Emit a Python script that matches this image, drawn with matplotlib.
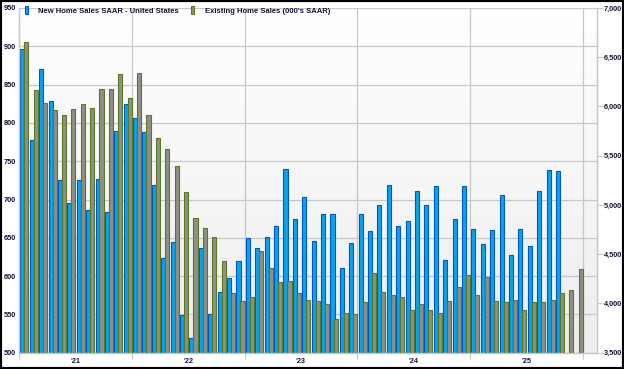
import numpy as np
import matplotlib.pyplot as plt
from matplotlib.patches import Patch, Rectangle
from matplotlib.colors import LinearSegmentedColormap

years = ["'21", "'22", "'23", "'24", "'25"]

# New home sales SAAR (thousands), Jan 2021 - Oct 2025
new_home = [897, 778, 870, 828, 725, 695, 726, 686, 727, 684, 789, 825,
            806, 788, 719, 623, 644, 549, 519, 637, 551, 579, 597, 620,
            650, 637, 651, 665, 740, 675, 703, 646, 681, 681, 611, 643,
            681, 659, 693, 719, 665, 672, 711, 693, 718, 621, 675, 718,
            662, 642, 660, 706, 628, 662, 639, 711, 738, 737]

# Existing home sales (000's SAAR), Jan 2021 - Dec 2025
existing_home = [6650, 6170, 6040, 5960, 5910, 5970, 6030, 5980, 6180, 6180, 6330, 6090,
                 6340, 5910, 5680, 5570, 5400, 5130, 4870, 4770, 4670, 4430, 4110, 4020,
                 4070, 4530, 4360, 4220, 4230, 4110, 4040, 4030, 3990, 3840, 3900, 3890,
                 4010, 4310, 4120, 4090, 4070, 3930, 3990, 3930, 3900, 4030, 4170, 4290,
                 4090, 4270, 4030, 4010, 4040, 3930, 4010, 4010, 4040, 4110, 4140, 4350]

txt = '#14143a'
grid_c = '#c8c8c8'
font = 'Liberation Sans'

fig = plt.figure(figsize=(6.24, 3.69), dpi=100)
ax = fig.add_axes([19 / 624, 1 - 352.7 / 369, (597 - 19) / 624, (352.7 - 8) / 369])

xmax = 61.5
# background gradient
cmap = LinearSegmentedColormap.from_list('bg', ['#ffffff', '#ededed'])
ax.imshow(np.linspace(0, 1, 256).reshape(-1, 1), cmap=cmap, aspect='auto',
          extent=[0, xmax, 500, 950], zorder=0)

ax.bar(np.arange(len(new_home)) + 0.14, np.array(new_home) - 500, bottom=500,
       width=0.43, align='edge', color='#08a4e8', edgecolor='#0058c8', linewidth=0.8)

ax.set_xlim(0, xmax)
ax.set_ylim(500, 950)
ax.set_yticks(range(500, 951, 50))
ax.set_xticks(range(0, 61, 12))
ax.set_xticklabels([])
ax.set_xticks([6, 18, 30, 42, 54], minor=True)
ax.set_xticklabels(years, minor=True)
ax.grid(True, color=grid_c, linewidth=0.9)
ax.set_axisbelow(True)

ax.tick_params(axis='x', which='major', length=4, color=grid_c, width=0.8)
ax.tick_params(axis='x', which='minor', length=0, pad=4, labelsize=5.3, labelcolor=txt)
ax.tick_params(axis='y', length=0, pad=2, labelsize=5.3, labelcolor=txt)

ax2 = ax.twinx()
ax2.bar(np.arange(len(existing_home)) + 0.565, np.array(existing_home) - 3500, bottom=3500,
        width=0.43, align='edge', color='#8f8f87', edgecolor='#5b7a20', linewidth=0.8)
ax2.set_ylim(3500, 7000)
ax2.set_yticks(range(3500, 7001, 500))
ax2.set_yticklabels([f'{v:,}' for v in range(3500, 7001, 500)])
ax2.tick_params(axis='y', length=4, color=grid_c, width=0.8, pad=1, labelsize=5.3, labelcolor=txt)

for a in (ax, ax2):
    a.spines['top'].set_visible(False)
    for s in ('left', 'right', 'bottom'):
        a.spines[s].set_color(grid_c)
        a.spines[s].set_linewidth(0.9)
    for lab in a.get_xticklabels(which='both') + a.get_yticklabels():
        lab.set_fontfamily(font)
        lab.set_fontweight('bold')

handles = [Patch(facecolor='#08a4e8', edgecolor='#0058c8', linewidth=0.8),
           Patch(facecolor='#8f8f87', edgecolor='#5b7a20', linewidth=0.8)]
fig.legend(handles, ['New Home Sales SAAR - United States', "Existing Home Sales (000's SAAR)"],
           loc='upper left', bbox_to_anchor=(25 / 624, 1 - 6 / 369), ncol=2, frameon=False,
           prop={'family': font, 'weight': 'bold', 'size': 5.5}, labelcolor=txt,
           handlelength=0.35, handleheight=1.3, handletextpad=1.4, columnspacing=1.6,
           borderaxespad=0, borderpad=0)

fig.patches.append(Rectangle((0, 0), 1, 1, transform=fig.transFigure, fill=False,
                             edgecolor='black', linewidth=3))

fig.savefig('out.png', dpi=100)
